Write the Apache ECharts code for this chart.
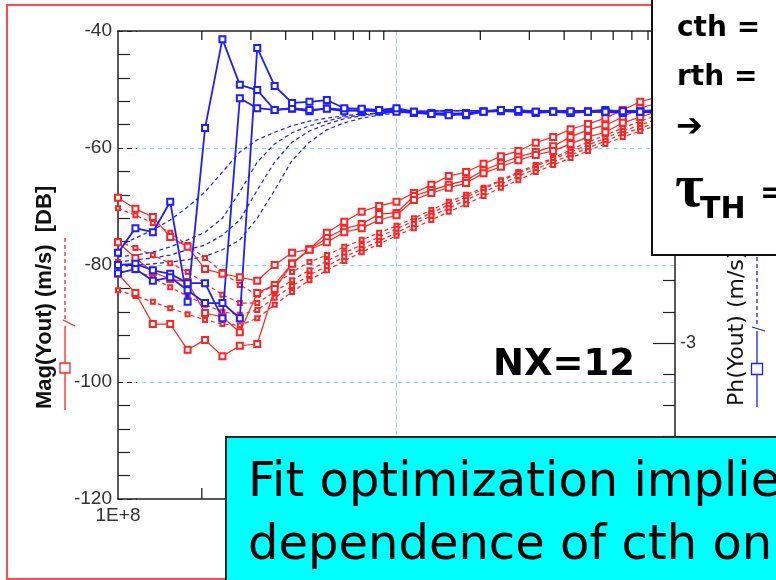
<!DOCTYPE html>
<html><head><meta charset="utf-8">
<script src="https://cdn.jsdelivr.net/npm/echarts@6/dist/echarts.min.js"></script>
<style>html,body{margin:0;padding:0;background:#fff}#c{width:776px;height:580px}</style>
</head><body><div id="c"></div>
<script>
// Frequencies (Hz), 16 points per decade
const freqs = [1.000e8,1.155e8,1.334e8,1.540e8,1.778e8,2.054e8,2.371e8,2.738e8,3.162e8,3.652e8,4.217e8,4.870e8,5.623e8,6.494e8,7.499e8,8.660e8,
  1.000e9,1.155e9,1.334e9,1.540e9,1.778e9,2.054e9,2.371e9,2.738e9,3.162e9,3.652e9,4.217e9,4.870e9,5.623e9,6.494e9,7.499e9,8.660e9,1.000e10];
// minor log ticks on top / bottom axes
const tickFreqs = [2e8,3e8,4e8,5e8,6e8,7e8,8e8,9e8,2e9,3e9,4e9,5e9,6e9,7e9,8e9,9e9];

// Mag(Yout) [dB] - blue measured (solid, markers)
const blueA = [-77.9,-73.7,-74.4,-69.2,-86.3,-56.6,-41.4,-49.2,-50.1,-53.5,-53.3,-53.7,-53.2,-53.5,-53.7,-53.5,-53.5,-53.8,-54.0,-54.2,-54.0,-53.7,-53.5,-53.7,-53.8,-53.7,-53.8,-53.7,-53.5,-53.8,-53.7,-53.5,-53.7];
const blueB = [-80.0,-79.8,-80.9,-81.5,-83.1,-83.1,-89.1,-51.5,-53.2,-53.5,-53.2,-53.5,-53.3,-53.7,-53.5,-53.8,-53.8,-54.0,-54.2,-54.0,-54.4,-53.8,-53.7,-53.8,-54.0,-53.8,-54.0,-53.8,-53.8,-54.0,-53.8,-53.8,-54.0];
const blueC = [-81.4,-80.7,-82.7,-82.1,-84.3,-86.5,-86.5,-89.1,-42.9,-49.4,-52.3,-52.1,-51.8,-53.2,-53.3,-53.5,-53.2,-53.8,-54.2,-54.4,-54.2,-53.8,-53.5,-53.5,-53.8,-53.8,-53.7,-53.8,-53.8,-53.7,-53.8,-54.0,-53.8];
// blue fitted (dashed)
const blueFit1 = [-76.8,-75.4,-74.0,-72.3,-70.1,-67.5,-64.1,-60.7,-58.6,-57.3,-56.2,-55.4,-54.9,-54.5,-54.2,-54.0,-53.8,-53.7,-53.7,-53.6,-53.6,-53.6,-53.6,-53.6,-53.6,-53.6,-53.6,-53.6,-53.6,-53.6,-53.6,-53.6,-53.6];
const blueFit2 = [-78.6,-78.3,-77.8,-76.9,-75.7,-74.4,-72.0,-67.5,-62.4,-59.3,-57.4,-56.2,-55.4,-54.7,-54.4,-54.0,-53.8,-53.7,-53.7,-53.6,-53.6,-53.6,-53.6,-53.6,-53.6,-53.6,-53.6,-53.6,-53.6,-53.6,-53.6,-53.6,-53.6];
const blueFit3 = [-79.5,-79.1,-78.8,-78.3,-77.4,-76.6,-74.9,-72.3,-67.2,-62.4,-59.0,-57.1,-55.9,-55.0,-54.5,-54.2,-53.8,-53.7,-53.7,-53.6,-53.6,-53.6,-53.6,-53.6,-53.6,-53.6,-53.6,-53.6,-53.6,-53.6,-53.6,-53.6,-53.6];
const blueFit4 = [-80.2,-80.0,-79.8,-79.5,-79.1,-78.5,-77.4,-75.7,-72.0,-67.2,-62.1,-59.0,-56.9,-55.7,-54.9,-54.4,-54.0,-53.8,-53.7,-53.7,-53.6,-53.6,-53.6,-53.6,-53.6,-53.6,-53.6,-53.6,-53.6,-53.6,-53.6,-53.6,-53.6];
// red measured (solid, markers)
const red1 = [-68.5,-70.4,-71.8,-75.2,-76.9,-80.7,-81.5,-82.1,-82.7,-80.0,-77.9,-77.3,-74.5,-72.6,-70.9,-69.9,-69.2,-67.7,-66.3,-64.8,-64.1,-62.7,-61.4,-60.5,-59.1,-58.1,-56.8,-55.9,-54.9,-53.5,-52.1,-51.3,-50.4];
const red2 = [-76.1,-78.8,-81.2,-82.4,-82.9,-88.2,-88.9,-91.5,-84.8,-83.4,-79.7,-77.3,-75.4,-73.8,-73.0,-71.3,-71.1,-68.2,-67.2,-66.3,-65.5,-63.8,-62.6,-61.5,-60.7,-59.7,-58.1,-56.9,-56.1,-54.7,-53.2,-52.3,-51.5];
const red3 = [-81.5,-84.8,-90.1,-90.1,-94.5,-92.8,-95.6,-93.8,-93.5,-84.1,-79.8,-77.4,-76.1,-74.4,-73.7,-72.3,-71.5,-68.9,-67.7,-66.8,-66.0,-64.3,-63.2,-62.1,-61.2,-60.5,-59.3,-58.1,-57.3,-55.7,-54.7,-53.8,-52.8];
// red fitted (dashed, small markers)
const redFit1 = [-70.3,-71.5,-72.8,-74.5,-76.6,-78.8,-81.2,-83.4,-85.1,-83.4,-81.2,-79.5,-78.3,-76.9,-75.7,-74.5,-73.3,-72.0,-70.6,-69.2,-68.0,-66.8,-65.5,-64.1,-62.9,-61.7,-60.3,-59.0,-57.8,-56.6,-55.4,-54.4,-53.3];
const redFit2 = [-75.9,-77.1,-78.3,-79.7,-81.2,-83.1,-85.1,-86.5,-86.5,-84.6,-82.6,-80.9,-79.3,-77.9,-76.6,-75.2,-73.8,-72.5,-71.1,-69.7,-68.4,-67.0,-65.6,-64.3,-63.1,-61.9,-60.7,-59.5,-58.3,-57.1,-56.1,-55.0,-54.0];
const redFit3 = [-79.5,-80.9,-82.2,-83.8,-85.3,-86.8,-88.0,-88.5,-87.7,-85.6,-83.6,-81.7,-80.2,-78.6,-77.3,-75.9,-74.5,-73.0,-71.6,-70.3,-68.9,-67.5,-66.2,-64.8,-63.6,-62.4,-61.2,-60.0,-58.8,-57.6,-56.6,-55.6,-54.5];
const redFit4 = [-84.3,-85.3,-86.3,-87.4,-88.4,-89.4,-90.1,-90.3,-89.1,-86.8,-84.6,-82.6,-80.9,-79.3,-77.8,-76.4,-75.0,-73.7,-72.3,-70.9,-69.6,-68.2,-66.8,-65.5,-64.1,-62.9,-61.7,-60.5,-59.3,-58.1,-57.1,-56.1,-55.0];

const BLUE = '#1e1eff', RED = '#ff2424', GRIDC = '#7fcfff', AX = '#222';
const pairs = arr => freqs.map((f, i) => [f, arr[i]]);

function measured(arr, color, w) {
  return {type:'line', data:pairs(arr), symbol:'emptyRect', symbolSize:6, showSymbol:true,
    lineStyle:{color:color, width:w}, itemStyle:{color:color, borderWidth:1.2}, z:5, animation:false};
}
function fitted(arr, color, marks) {
  return {type:'line', data:pairs(arr), symbol: marks ? 'emptyRect' : 'none', symbolSize:4, showSymbol:!!marks,
    lineStyle:{color:color, width:1.2, type:[4,3]}, itemStyle:{color:color, borderWidth:1}, z:3, animation:false};
}

const T = (x, y, text, font, z) => ({type:'text', z:z || 101, x:x, y:y,
  style:{text:text, font:font, fill:'#000', textAlign:'left', align:'left', textVerticalAlign:'middle', verticalAlign:'middle'}});

const chart = echarts.init(document.getElementById('c'), null, {renderer:'canvas'});
const option = {
  animation:false,
  backgroundColor:'#fff',
  textStyle:{fontFamily:'"Liberation Sans", Arial, sans-serif'},
  grid:{left:118, right:101, top:31, bottom:81, containLabel:false, outerBoundsMode:'none'},
  xAxis:[
    {type:'log', logBase:10, min:1e8, max:1e10, position:'bottom',
     axisLine:{show:true, onZero:false, lineStyle:{color:AX, width:1.5}},
     axisTick:{show:false},
     axisLabel:{show:true, margin:7, color:'#333', fontSize:19, formatter:v => '1E+' + Math.round(Math.log10(v))},
     splitLine:{show:true, showMinLine:false, showMaxLine:false, lineStyle:{color:GRIDC, type:[4,4], width:1}}},
    {type:'log', logBase:10, min:1e8, max:1e10, position:'top', z:4,
     axisLine:{show:true, onZero:false, lineStyle:{color:AX, width:1.5}},
     axisTick:{show:false}, axisLabel:{show:false}, splitLine:{show:false}}
  ],
  yAxis:[
    {type:'value', min:-120, max:-40, interval:20, position:'left',
     axisLine:{show:true, onZero:false, lineStyle:{color:AX, width:1.5}},
     axisTick:{show:true, inside:true, length:19, lineStyle:{color:AX, width:1.2, type:[5,4]}},
     minorTick:{show:true, splitNumber:5, length:12, lineStyle:{color:AX, width:1.2}},
     axisLabel:{margin:6, color:'#333', fontSize:19},
     splitLine:{show:true, showMinLine:false, showMaxLine:false, lineStyle:{color:GRIDC, type:[4,4], width:1}}},
    {type:'value', min:-4, max:-1, interval:1, position:'right',
     axisLine:{show:true, onZero:false, lineStyle:{color:AX, width:1.5}},
     axisTick:{show:true, inside:true, length:22, lineStyle:{color:AX, width:1.2}},
     minorTick:{show:true, splitNumber:5, length:12, lineStyle:{color:AX, width:1.2}},
     axisLabel:{margin:5, color:'#333', fontSize:18},
     splitLine:{show:false}}
  ],
  series:[
    fitted(redFit1, RED, true), fitted(redFit2, RED, true), fitted(redFit3, RED, true), fitted(redFit4, RED, true),
    fitted(blueFit1, BLUE, false), fitted(blueFit2, BLUE, false), fitted(blueFit3, BLUE, false), fitted(blueFit4, BLUE, false),
    measured(red1, RED, 1.2), measured(red2, RED, 1.2), measured(red3, RED, 1.2),
    measured(blueA, BLUE, 1.8), measured(blueB, BLUE, 1.8), measured(blueC, BLUE, 1.8),
    {type:'custom', data:tickFreqs.map(f => [f, -120]), z:6, clip:false, animation:false,
     renderItem:function(params, api){
       const f = api.value(0);
       const pb = api.coord([f, -120]);
       const pt = api.coord([f, -40]);
       return {type:'group', children:[
         {type:'line', shape:{x1:pb[0], y1:pb[1], x2:pb[0], y2:pb[1]-11}, style:{stroke:AX, lineWidth:1.3}},
         {type:'line', shape:{x1:pt[0], y1:pt[1], x2:pt[0], y2:pt[1]+9}, style:{stroke:AX, lineWidth:1.3}}
       ]};
     }}
  ],
  graphic:[
    {type:'rect', z:-10, silent:true, shape:{x:7, y:5, width:830, height:574}, style:{fill:'none', stroke:'#ff4d4d', lineWidth:2}},
    // left title + legend glyph
    {type:'text', z:50, x:45, y:409, rotation:Math.PI/2,
     style:{text:'Mag(Yout) (m/s)  [DB]', font:'bold 22px "Liberation Sans"', fill:'#111', textAlign:'left', align:'left', textVerticalAlign:'middle', verticalAlign:'middle'}},
    {type:'line', z:50, shape:{x1:65, y1:238, x2:65, y2:320}, style:{stroke:RED, lineWidth:1.3, lineDash:[4,3]}},
    {type:'line', z:50, shape:{x1:63, y1:320, x2:75, y2:326}, style:{stroke:RED, lineWidth:1.3}},
    {type:'line', z:50, shape:{x1:65, y1:326, x2:65, y2:410}, style:{stroke:RED, lineWidth:1.3}},
    {type:'rect', z:51, shape:{x:60, y:363, width:10, height:10}, style:{fill:'#fff', stroke:RED, lineWidth:1.3}},
    // right title + legend glyph
    {type:'text', z:50, x:737, y:406, rotation:Math.PI/2,
     style:{text:'Ph(Yout) (m/s)', font:'22px "DejaVu Sans"', fill:'#111', textAlign:'left', align:'left', textVerticalAlign:'middle', verticalAlign:'middle'}},
    {type:'line', z:50, shape:{x1:757, y1:250, x2:757, y2:327}, style:{stroke:BLUE, lineWidth:1.3, lineDash:[4,3]}},
    {type:'line', z:50, shape:{x1:752, y1:327, x2:765, y2:331}, style:{stroke:BLUE, lineWidth:1.3}},
    {type:'line', z:50, shape:{x1:757, y1:331, x2:757, y2:407}, style:{stroke:BLUE, lineWidth:1.3}},
    {type:'rect', z:51, shape:{x:751.5, y:363.5, width:11, height:11}, style:{fill:'#fff', stroke:BLUE, lineWidth:1.3}},
    // NX label
    T(493, 365, 'NX=12', 'bold 37px "DejaVu Sans"', 60),
    // top-right text box
    {type:'rect', z:100, shape:{x:652, y:-5, width:140, height:260}, style:{fill:'#fff', stroke:'#111', lineWidth:2}},
    T(677, 29, 'cth =', 'bold 28px "DejaVu Sans"'),
    T(677, 78, 'rth =', 'bold 28px "DejaVu Sans"'),
    T(676, 128, '\u2794', 'bold 32px "DejaVu Sans"'),
    T(675, 190, '\u03C4', 'bold 62px "Liberation Serif"'),
    T(700, 210, 'TH', 'bold 30px "DejaVu Sans"'),
    T(760, 194, '=', 'bold 30px "DejaVu Sans"'),
    // cyan box
    {type:'rect', z:100, shape:{x:226, y:437, width:580, height:170}, style:{fill:'#00ffff', stroke:'#222', lineWidth:2}},
    T(248, 484, 'Fit optimization implies', '48px "DejaVu Sans"'),
    T(248, 547, 'dependence of cth on', '48px "DejaVu Sans"')
  ]
};
chart.setOption(option);
</script>
</body></html>
